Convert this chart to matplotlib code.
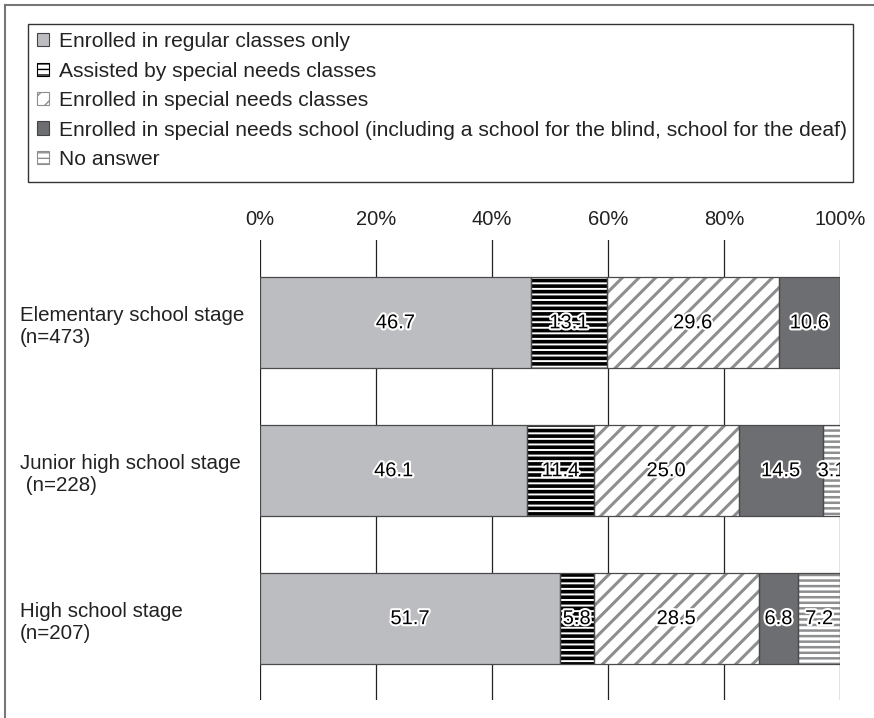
import matplotlib
matplotlib.use('Agg')
import matplotlib.pyplot as plt
import matplotlib.patheffects as pe
from matplotlib.patches import Patch, Rectangle
from matplotlib.lines import Line2D
import numpy as np

plt.rcParams['font.family'] = ['Liberation Sans', 'DejaVu Sans']

# School stages (top to bottom)
stages = ["Elementary school stage\n(n=473)",
          "Junior high school stage\n (n=228)",
          "High school stage\n(n=207)"]

# Share of responses per stage, in %
regular_only = [46.7, 46.1, 51.7]
assisted = [13.1, 11.4, 5.8]
special_classes = [29.6, 25.0, 28.5]
special_school = [10.6, 14.5, 6.8]
no_answer = [0.0, 3.1, 7.2]

series_names = ["Enrolled in regular classes only",
                "Assisted by special needs classes",
                "Enrolled in special needs classes",
                "Enrolled in special needs school (including a school for the blind, school for the deaf)",
                "No answer"]

x_ticks = [0, 20, 40, 60, 80, 100]
x_tick_labels = ["0%", "20%", "40%", "60%", "80%", "100%"]

# fill, hatch, hatch colour, hatch width
styles = [
    ("#bcbdc0", "", "#bcbdc0", 1.0),
    ("white", "---", "black", 2.6),
    ("white", "//", "#8d8e90", 2.2),
    ("#6d6e71", "", "#6d6e71", 1.0),
    ("white", "---", "#8d8e90", 1.8),
]

W, H = 874, 718
fig = plt.figure(figsize=(W / 100, H / 100), dpi=100)
ax = fig.add_axes([260 / W, 1 - 700 / H, 580 / W, 460 / H])

data = np.array([regular_only, assisted, special_classes, special_school, no_answer])
y = np.arange(len(stages))
bar_h = 0.615

for xv in x_ticks:
    ax.axvline(xv, color="#222222", lw=0.9, zorder=1)

left = np.zeros(len(stages))
for vals, (fc, hatch, hc, hlw) in zip(data, styles):
    with plt.rc_context({'hatch.linewidth': hlw}):
        bars = ax.barh(y, vals, left=left, height=bar_h, color=fc,
                       edgecolor=hc, hatch=hatch, linewidth=0, zorder=2)
    for b in bars:
        if hasattr(b, 'set_hatch_linewidth'):
            b.set_hatch_linewidth(hlw)
    # thin outline around each segment
    ax.barh(y, vals, left=left, height=bar_h, fill=False,
            edgecolor="#4a4a4a", linewidth=0.9, zorder=3)
    for yi, v, l in zip(y, vals, left):
        if v > 0:
            ax.text(l + v / 2, yi, f"{v:.1f}", ha="center", va="center",
                    fontsize=14.5, color="black", zorder=4, clip_on=True,
                    path_effects=[pe.withStroke(linewidth=3, foreground="white")])
    left += vals

ax.set_xlim(0, 100)
ax.set_ylim(2.55, -0.56)
ax.xaxis.tick_top()
ax.set_xticks(x_ticks)
ax.set_xticklabels(x_tick_labels, fontsize=14.5, color="#222222")
ax.set_yticks(y)
ax.set_yticklabels(stages, fontsize=14.8, color="#222222", ha="left")
ax.tick_params(axis="x", length=0, pad=8)
ax.tick_params(axis="y", length=0, pad=173)
for s in ax.spines.values():
    s.set_visible(False)

# legend (frame drawn separately below)
handles = []
for fc, hatch, hc, hlw in styles:
    p = Patch(facecolor=fc, edgecolor="#444444" if not hatch else hc,
              hatch=hatch, linewidth=0.8)
    handles.append(p)
leg = fig.legend(handles, series_names, loc="upper left",
                 bbox_to_anchor=(28 / W, 1 - 24 / H, 825 / W, 0.001),
                 mode="expand", fontsize=15.1, frameon=False,
                 handlelength=0.6, handleheight=0.6,
                 handletextpad=0.45, labelspacing=0.5, borderpad=0.42,
                 borderaxespad=0)
for t in leg.get_texts():
    t.set_color("#222222")
fig.add_artist(Rectangle((28 / W, 1 - 182 / H), 825 / W, 158 / H,
                         transform=fig.transFigure, fill=False,
                         edgecolor="#333333", linewidth=1.0))

# outer frame
fig.add_artist(Line2D([5 / W, 5 / W], [0, 1 - 5 / H], color="#777777", lw=1.5))
fig.add_artist(Line2D([5 / W, 1], [1 - 5 / H, 1 - 5 / H], color="#777777", lw=1.5))

fig.savefig("out.png", dpi=100)
